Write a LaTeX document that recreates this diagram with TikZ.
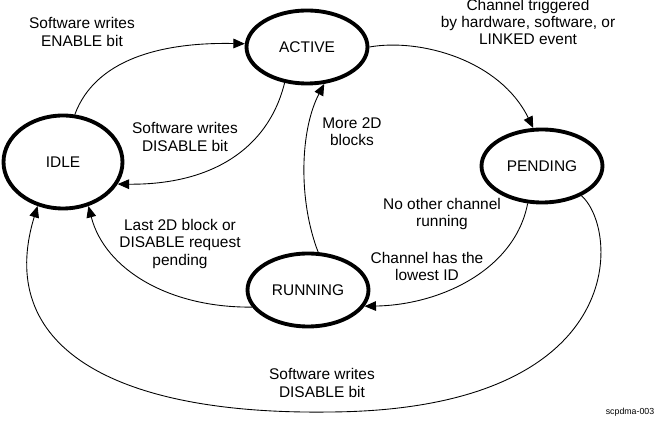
\documentclass[tikz,border=0pt]{standalone}
\usepackage{fontspec}
\setmainfont{Liberation Sans}
\usetikzlibrary{shapes.geometric,arrows.meta}

\begin{document}
\begin{tikzpicture}[x=0.02cm,y=-0.02cm,
  state/.style={ellipse,draw,line width=2.2pt,inner sep=0pt,minimum width=2.42cm,minimum height=1.46cm,font=\fontsize{8.8}{9.7}\selectfont},
  lbl/.style={align=center,inner sep=0pt,font=\fontsize{8.8}{9.7}\selectfont},
  tr/.style={line width=0.5pt,-{Triangle[length=6.5pt,width=5.5pt]}}]
\useasboundingbox (0,0) rectangle (660,428);

\node[state] (active) at (307,47) {ACTIVE};
\node[state,minimum width=2.38cm,minimum height=1.86cm] (idle) at (63,162) {IDLE};
\node[state] (pending) at (542,166) {PENDING};
\node[state] (running) at (308,290) {RUNNING};

\node[lbl] (l1) at (82,32) {Software writes\\ENABLE bit};
\node[lbl] (l2) at (185,137) {Software writes\\DISABLE bit};
\node[lbl] (l3) at (528,22) {Channel triggered\\by hardware, software, or\\LINKED event};
\node[lbl] (l4) at (352,132) {More 2D\\blocks};
\node[lbl] (l5) at (442,214) {No other channel\\running};
\node[lbl] (l6) at (427,266) {Channel has the\\lowest ID};
\node[lbl] (l7) at (180,244) {Last 2D block or\\DISABLE request\\pending};
\node[lbl] (l8) at (322,383) {Software writes\\DISABLE bit};
\node[font=\fontsize{5}{6}\selectfont,inner sep=0pt] (tag) at (630,412) {scpdma-003};

\draw[tr] (idle.76) .. controls (95,60) and (160,42) .. (active.177);
\draw[tr] (active.-122) .. controls (268,150) and (210,185) .. (idle.-22);
\draw[tr] (active.0) .. controls (420,38) and (500,60) .. (pending.103);
\draw[tr] (running.75) .. controls (298,200) and (300,130) .. (active.-65);
\draw[tr] (pending.-111) .. controls (515,270) and (440,305) .. (running.-16);
\draw[tr] (running.197) .. controls (170,308) and (105,270) .. (idle.-60);
\draw[tr] (pending.-37) .. controls (620,230) and (630,410) .. (330,412)
  .. controls (110,415) and (-5,345) .. (idle.-120);
\end{tikzpicture}
\end{document}
